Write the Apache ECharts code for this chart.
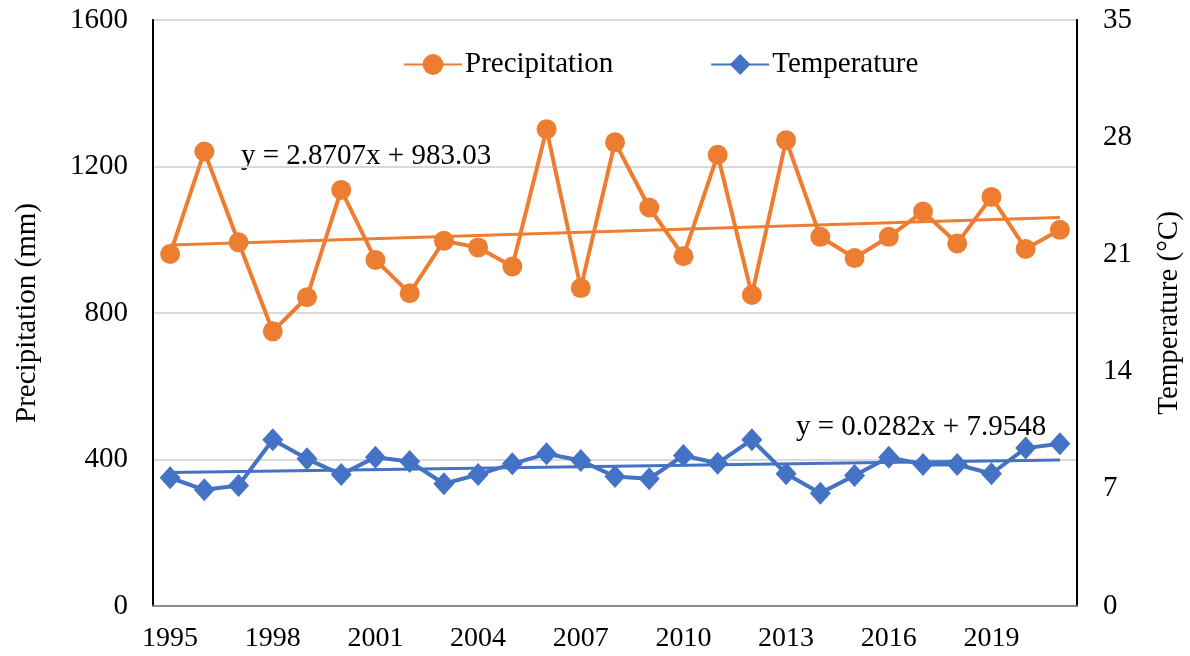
<!DOCTYPE html>
<html>
<head>
<meta charset="utf-8">
<script src="https://cdn.jsdelivr.net/npm/echarts@6/dist/echarts.min.js"></script>
<style>
  html, body { margin: 0; padding: 0; background: #fff; }
  #chart { width: 1190px; height: 656px; }
</style>
</head>
<body>
<div id="chart"></div>
<script>
// years on the x axis
var years = ["1995", "1996", "1997", "1998", "1999", "2000", "2001", "2002", "2003", "2004",
  "2005", "2006", "2007", "2008", "2009", "2010", "2011", "2012", "2013", "2014",
  "2015", "2016", "2017", "2018", "2019", "2020", "2021"];

// annual precipitation (mm), left axis
var precipitation = [961, 1241, 993, 750, 843, 1136, 945, 854, 997, 979,
  927, 1302, 868, 1266, 1088, 955, 1232, 849, 1272, 1008,
  950, 1008, 1077, 990, 1117, 975, 1027];

// mean temperature (°C), right axis
var temperature = [7.66, 6.94, 7.20, 9.93, 8.79, 7.85, 8.89, 8.63, 7.30, 7.85,
  8.49, 9.09, 8.69, 7.73, 7.60, 8.99, 8.53, 9.93, 7.90, 6.74,
  7.79, 8.89, 8.45, 8.45, 7.90, 9.43, 9.69];

// linear trend end values (first year, last year)
var precipTrend = [985.9, 1060.5];
var tempTrend = [7.98, 8.72];

var precipEq = "y = 2.8707x + 983.03";
var tempEq = "y = 0.0282x + 7.9548";

var ORANGE = "#ED7D31";
var BLUE = "#4472C4";
var FONT = "Liberation Serif";

var chart = echarts.init(document.getElementById("chart"));

chart.setOption({
  animation: false,
  textStyle: { fontFamily: FONT, color: "#000" },
  grid: {
    left: 153,
    right: 113,
    top: 20,
    bottom: 50,
    outerBoundsMode: "none",
    show: true,
    borderColor: "#000",
    borderWidth: 2
  },
  legend: {
    left: 398,
    top: 45,
    itemWidth: 58,
    itemHeight: 26,
    itemGap: 97,
    textStyle: { fontFamily: FONT, fontSize: 29, color: "#000", padding: [0, 0, 0, -2] },
    data: ["Precipitation", "Temperature"]
  },
  xAxis: {
    type: "category",
    data: years,
    axisTick: { show: false },
    axisLine: { lineStyle: { color: "#8c8c8c", width: 2 } },
    axisLabel: {
      interval: 2,
      fontFamily: FONT,
      fontSize: 28,
      color: "#000",
      margin: 19
    }
  },
  yAxis: [
    {
      type: "value",
      min: 0,
      max: 1600,
      interval: 400,
      name: "Precipitation (mm)",
      nameLocation: "middle",
      nameGap: 111,
      nameTextStyle: { fontFamily: FONT, fontSize: 29, color: "#000" },
      axisLine: { show: true, lineStyle: { color: "#000", width: 2 } },
      axisTick: { show: false },
      axisLabel: {
        fontFamily: FONT, fontSize: 29, color: "#000", margin: 25,
        formatter: function (v) { return String(v); }
      },
      splitLine: { lineStyle: { color: "#d9d9d9", width: 2 } }
    },
    {
      type: "value",
      min: 0,
      max: 35,
      interval: 7,
      name: "Temperature (°C)",
      nameLocation: "middle",
      nameGap: 78,
      nameTextStyle: { fontFamily: FONT, fontSize: 29, color: "#000" },
      axisLine: { show: true, lineStyle: { color: "#000", width: 2 } },
      axisTick: { show: false },
      axisLabel: {
        fontFamily: FONT, fontSize: 29, color: "#000", margin: 26,
        formatter: function (v) { return String(v); }
      },
      splitLine: { show: false }
    }
  ],
  graphic: [
    {
      type: "text",
      left: 241,
      top: 142,
      style: { text: precipEq, font: "29px " + FONT, fill: "#000" }
    },
    {
      type: "text",
      left: 796,
      top: 413,
      style: { text: tempEq, font: "29px " + FONT, fill: "#000" }
    }
  ],
  series: [
    {
      name: "Precipitation trend",
      type: "line",
      yAxisIndex: 0,
      symbol: "none",
      lineStyle: { color: ORANGE, width: 3 },
      data: [[years[0], precipTrend[0]], [years[years.length - 1], precipTrend[1]]]
    },
    {
      name: "Temperature trend",
      type: "line",
      yAxisIndex: 1,
      symbol: "none",
      lineStyle: { color: BLUE, width: 3 },
      data: [[years[0], tempTrend[0]], [years[years.length - 1], tempTrend[1]]]
    },
    {
      name: "Precipitation",
      type: "line",
      yAxisIndex: 0,
      symbol: "circle",
      symbolSize: 20,
      showAllSymbol: true,
      itemStyle: { color: ORANGE },
      lineStyle: { color: ORANGE, width: 4 },
      data: precipitation
    },
    {
      name: "Temperature",
      type: "line",
      yAxisIndex: 1,
      symbol: "diamond",
      symbolSize: [21, 23],
      showAllSymbol: true,
      itemStyle: { color: BLUE },
      lineStyle: { color: BLUE, width: 4 },
      data: temperature
    }
  ]
});
</script>
</body>
</html>
